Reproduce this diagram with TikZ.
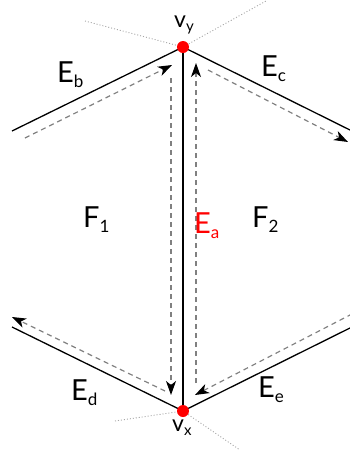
\documentclass[tikz,border=0pt]{standalone}
\usepackage{fontspec}
\setmainfont{Lato}
\usetikzlibrary{arrows.meta, positioning, calc}

% big letter with lowered small index
\newcommand{\edgename}[2]{#1\raisebox{-5pt}{\fontsize{17}{17}\selectfont #2}}
\newcommand{\vtxname}[2]{#1\raisebox{-4pt}{\fontsize{15}{15}\selectfont #2}}

\begin{document}
\begin{tikzpicture}[x=1pt, y=-1pt,
    edge/.style={line width=1.3pt},
    flow/.style={gray, line width=1.2pt, dash pattern=on 5pt off 4pt, -{Stealth[black, length=14pt, width=10pt, inset=4pt]}},
    guide/.style={gray!70, line width=0.9pt, dash pattern=on 1pt off 2pt},
    vtx/.style={circle, fill=red, inner sep=0pt, minimum size=12pt},
    big/.style={font=\fontsize{29}{31}\selectfont, inner sep=0pt, anchor=base west},
    small/.style={font=\fontsize{23}{25}\selectfont, inner sep=0pt, anchor=base west}]
    \useasboundingbox (0,0) rectangle (349,451);

    % vertices and far ends of the edges
    \coordinate (vy) at (183,47);
    \coordinate (vx) at (183,411);
    \coordinate (bend) at (12,131);
    \coordinate (cend) at (352,131);
    \coordinate (dend) at (12,327);
    \coordinate (eend) at (352,327);

    % dotted guides
    \coordinate (gy1) at (85,21);
    \coordinate (gy2) at (266,1);
    \coordinate (gx1) at (115,421);
    \coordinate (gx2) at (240,450);
    \draw[guide] (gy1) -- (vy) -- (gy2);
    \draw[guide] (gx1) -- (vx) -- (gx2);

    % edges
    \draw[edge] (bend) -- (vy) -- (cend);
    \draw[edge] (dend) -- (vx) -- (eend);
    \draw[edge] (vx) -- (vy);

    % half-edge arrows
    \coordinate (hb1) at (25,138);   \coordinate (hb2) at (172,65);
    \coordinate (hc1) at (208,70);   \coordinate (hc2) at (348,142);
    \coordinate (hd1) at (165,391);  \coordinate (hd2) at (12,317);
    \coordinate (he1) at (352,314);  \coordinate (he2) at (195,395);
    \coordinate (hl1) at (171,78);   \coordinate (hl2) at (171,395);
    \coordinate (hr1) at (196,383);  \coordinate (hr2) at (196,63);
    \draw[flow] (hb1) -- (hb2);
    \draw[flow] (hc1) -- (hc2);
    \draw[flow] (hd1) -- (hd2);
    \draw[flow] (he1) -- (he2);
    \draw[flow] (hl1) -- (hl2);
    \draw[flow] (hr1) -- (hr2);

    \node[vtx] (vydot) at (vy) {};
    \node[vtx] (vxdot) at (vx) {};

    % labels
    \node[small] (ly) at (174,27) {\vtxname{v}{y}};
    \node[small] (lx) at (172,431) {\vtxname{v}{x}};
    \node[big] (lb) at (57,82) {\edgename{E}{b}};
    \node[big] (lc) at (261,76) {\edgename{E}{c}};
    \node[big] (ld) at (71,400) {\edgename{E}{d}};
    \node[big] (le) at (258,397) {\edgename{E}{e}};
    \node[big] (lf1) at (83,227) {\edgename{F}{1}};
    \node[big] (lf2) at (252,227) {\edgename{F}{2}};
    \node[big, red] (la) at (194,233) {\edgename{E}{a}};
\end{tikzpicture}
\end{document}
